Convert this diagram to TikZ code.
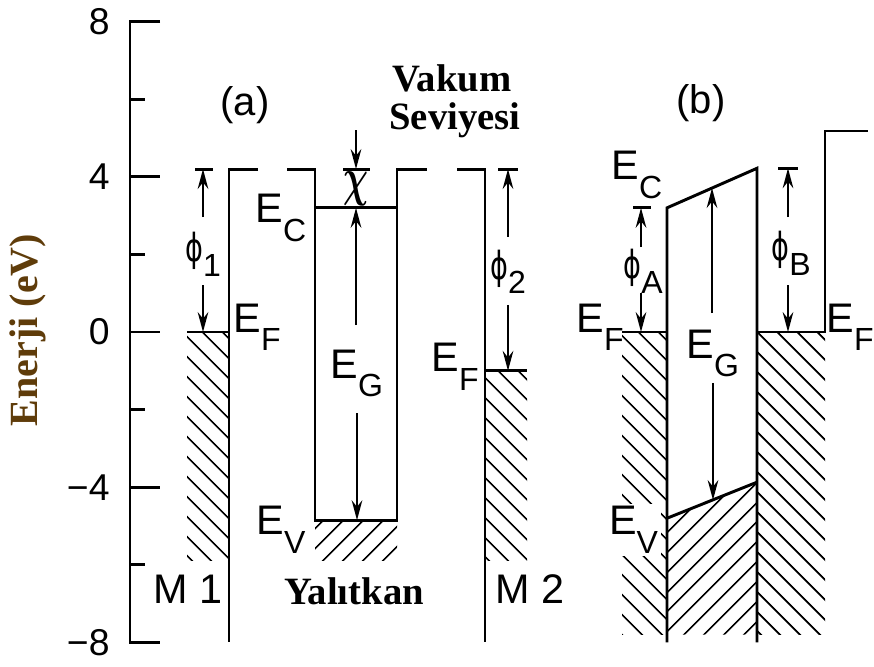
\documentclass[tikz,border=0pt]{standalone}
\usepackage{fontspec}
\setmainfont{Liberation Sans}
\newfontfamily\trserif{Liberation Serif}
\newfontfamily\dvsans{DejaVu Sans}
\usetikzlibrary{arrows.meta,patterns.meta}
\definecolor{axbrown}{RGB}{95,60,10}
\newcommand{\lvl}[2]{#1\raisebox{-14pt}{\fontsize{24}{24}\selectfont #2}}
\newcommand{\wf}[1]{\scalebox{.7}[1]{\dvsans\fontsize{29}{29}\selectfont ϕ}\raisebox{-11pt}{\fontsize{24}{24}\selectfont #1}}

\begin{document}
\begin{tikzpicture}[x=.75pt,y=29.1pt,line width=2.2pt,
  lbl/.style={inner sep=0pt,font=\fontsize{31}{31}\selectfont},
  elbl/.style={lbl,anchor=base west},
  tick/.style={inner sep=0pt,anchor=east,font=\fontsize{28}{28}\selectfont},
  trlbl/.style={inner sep=0pt,font=\trserif\bfseries\fontsize{29}{29}\selectfont},
  arr/.style={line width=1.4pt,-{Stealth[length=15pt,width=8pt,inset=5pt]}},
  hatchdown/.style={pattern={Lines[angle=-45,distance=10.5pt,line width=1.4pt]}},
  hatchup/.style={pattern={Lines[angle=45,distance=10.5pt,line width=1.4pt]}}]
\useasboundingbox (0,-8.608) rectangle (874,8.557);
% energy axis
\draw (160,8)--(130,8)--(130,-8)--(160,-8);
\foreach \e in {4,0,-4} \draw (130,\e)--(160,\e);
\foreach \e in {6,2,-2,-6} \draw (130,\e)--(145,\e);
\foreach \e/\t [count=\i] in {8/8,4/4,0/0,-4/−4,-8/−8}
  \node[tick] (tk\i) at (111,\e) {\t};
\node[trlbl,rotate=90,text=axbrown,font=\trserif\bfseries\fontsize{30}{30}\selectfont] (ylab) at (28,.05) {Enerji (eV)};

% (a) hatched bands
\fill[hatchdown] (187,0) rectangle (229,-5.9);
\fill[hatchup] (315,-4.85) rectangle (397,-5.9);
\fill[hatchdown] (485,-1) rectangle (527,-5.9);
% (a) metal M1, insulator, metal M2
\draw (258,4.2)--(229,4.2)--(229,-8);
\draw (287,4.2)--(315,4.2)--(315,-4.85)--(397,-4.85)--(397,4.2)--(427,4.2);
\draw (315,3.2)--(397,3.2);
\draw (457,4.2)--(485,4.2)--(485,-8);
\draw (195,4.2)--(213,4.2);\draw (343,4.2)--(370,4.2);\draw (498,4.2)--(518,4.2);
\draw (187,0)--(229,0);\draw (485,-1)--(527,-1);
% (a) arrows
\coordinate (p1u) at (203,2.96);\coordinate (p1t) at (203,4.2);
\coordinate (p1d) at (203,1.21);\coordinate (p1b) at (203,0);
\draw[arr] (p1u)--(p1t);\draw[arr] (p1d)--(p1b);
\coordinate (chu) at (356,5.2);\coordinate (cht) at (356,4.2);
\draw[arr] (chu)--(cht);
\coordinate (gau) at (356,.18);\coordinate (gat) at (356,3.2);
\coordinate (gad) at (357,-2.09);\coordinate (gab) at (357,-4.85);
\draw[arr] (gau)--(gat);\draw[arr] (gad)--(gab);
\coordinate (p2u) at (508,2.45);\coordinate (p2t) at (508,4.2);
\coordinate (p2d) at (508,.7);\coordinate (p2b) at (508,-1);
\draw[arr] (p2u)--(p2t);\draw[arr] (p2d)--(p2b);
% (a) labels
\node[lbl,font=\fontsize{30}{30}\selectfont] (pa) at (245,5.85) {(a)};
\node[trlbl,anchor=base] (vak) at (452,6.19) {Vakum};
\node[trlbl,anchor=base] (sev) at (455,5.21) {Seviyesi};
\node[lbl] (phi1) at (203,2.0) {\wf{1}};
\node[lbl] (chi) at (356,3.68) {\scalebox{1.05}[1.6]{\boldmath$\chi$}};
\node[lbl] (phi2) at (508,1.55) {\wf{2}};
\node[elbl] (eca) at (254,2.81) {\lvl{E}{C}};
\node[elbl] (efa) at (232,0) {\lvl{E}{F}};
\node[elbl] (ega) at (329,-1.19) {\lvl{E}{G}};
\node[elbl] (eva) at (255,-5.23) {\lvl{E}{V}};
\node[elbl] (efb) at (430,-1.03) {\lvl{E}{F}};
\node[lbl] (m1) at (188,-6.62) {M 1};
\node[lbl] (m2) at (530,-6.62) {M 2};
\node[trlbl] (yal) at (354,-6.69) {Yalıtkan};

% (b) hatched bands
\fill[hatchdown] (622,0) rectangle (667,-7.8);
\fill[hatchup] (667,-4.8)--(757,-3.87)--(757,-7.8)--(667,-7.8)--cycle;
\fill[hatchdown] (757,0) rectangle (825,-7.8);
% (b) contact under bias
\draw (667,-8)--(667,3.2)--(757,4.22)--(757,-8);
\draw (667,-4.8)--(757,-3.87);
\draw (622,0)--(667,0);
\draw (757,0)--(825,0)--(825,5.18)--(868,5.18);
\draw (633,3.2)--(651,3.2);\draw (778,4.22)--(798,4.22);
% (b) arrows
\coordinate (pAu) at (641,2.19);\coordinate (pAt) at (641,3.2);
\coordinate (pAd) at (641,1.0);\coordinate (pAb) at (641,0);
\draw[arr] (pAu)--(pAt);\draw[arr] (pAd)--(pAb);
\coordinate (pBu) at (788,2.96);\coordinate (pBt) at (788,4.22);
\coordinate (pBd) at (788,1.21);\coordinate (pBb) at (788,0);
\draw[arr] (pBu)--(pBt);\draw[arr] (pBd)--(pBb);
\coordinate (gbu) at (712,.49);\coordinate (gbt) at (712,3.71);
\coordinate (gbd) at (713,-1.31);\coordinate (gbb) at (713,-4.33);
\draw[arr] (gbu)--(gbt);\draw[arr] (gbd)--(gbb);
% (b) labels
\node[lbl,font=\fontsize{30}{30}\selectfont] (pb) at (701,5.9) {(b)};
\node[lbl] (phiA) at (643,1.57) {\wf{A}};
\node[lbl] (phiB) at (791,2.03) {\wf{B}};
\node[elbl] (ecb) at (610,3.92) {\lvl{E}{C}};
\node[elbl] (efl) at (575,0) {\lvl{E}{F}};
\node[elbl] (egb) at (685,-.67) {\lvl{E}{G}};
\node[elbl,fill=white,inner sep=2pt] (evb) at (605,-5.23) {\lvl{E}{V}};
\node[elbl] (efr) at (825,0) {\lvl{E}{F}};
\end{tikzpicture}
\end{document}
